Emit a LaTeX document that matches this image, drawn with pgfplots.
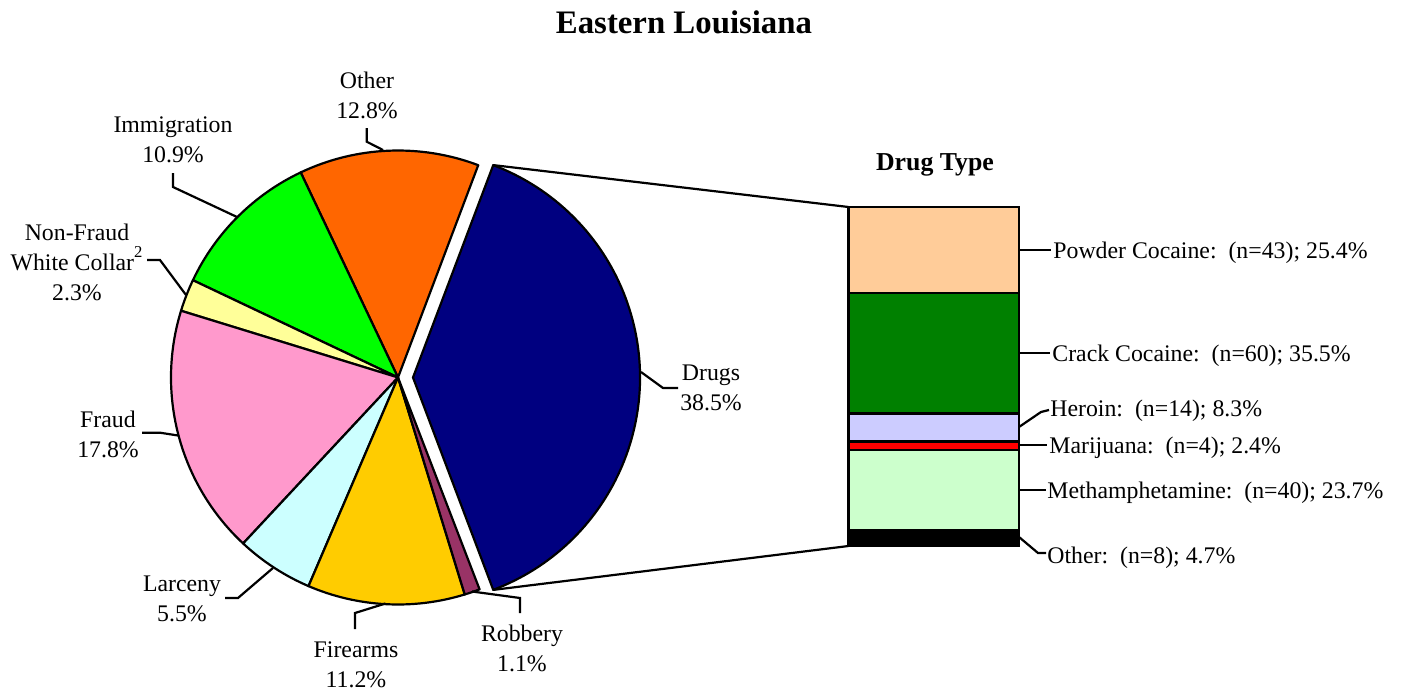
\documentclass[border=0pt]{standalone}
\usepackage{pgfplots}
\pgfplotsset{compat=1.18}
\usepackage{fontspec}
\setmainfont{Liberation Serif}
\definecolor{cDrugs}{HTML}{000080}
\definecolor{cOther}{HTML}{FF6600}
\definecolor{cImm}{HTML}{00FF00}
\definecolor{cNF}{HTML}{FFFF99}
\definecolor{cFraud}{HTML}{FF99CC}
\definecolor{cLarc}{HTML}{CCFFFF}
\definecolor{cFire}{HTML}{FFCC00}
\definecolor{cRob}{HTML}{993366}
\definecolor{bPowder}{HTML}{FFCC99}
\definecolor{bCrack}{HTML}{008000}
\definecolor{bHeroin}{HTML}{CCCCFF}
\definecolor{bMari}{HTML}{FF0000}
\definecolor{bMeth}{HTML}{CCFFCC}
\definecolor{bOther}{HTML}{000000}
\newcommand\lbl{\fontsize{11.9}{15}\selectfont}
\begin{document}
\begin{tikzpicture}
\begin{axis}[x=0.5pt,y=0.5pt,xmin=0,xmax=1405,ymin=0,ymax=693,
  hide axis,clip=false,anchor=south west,at={(0,0)}]
\path (axis cs:0,0) rectangle (axis cs:1405,693);
% exploded Drugs slice (38.5%)
\draw[fill=cDrugs,line width=1.1pt,line join=round] (axis cs:413,315.5) -- ++(-69.3:113.5pt)
   arc[start angle=-69.3,end angle=69.3,radius=113.5pt] -- cycle;
% remaining slices, counter-clockwise
\foreach \pct/\col [remember=\endang as \startang (initially 69.3)] in
  {12.8/cOther,10.9/cImm,2.3/cNF,17.8/cFraud,5.5/cLarc,11.2/cFire,1.1/cRob}{
  \pgfmathsetmacro\endang{\startang+\pct*3.6}
  \edef\temp{\noexpand\draw[fill=\col,line width=1.1pt,line join=round] (axis cs:398,315.5) -- ++(\startang:113.5pt)
     arc[start angle=\startang,end angle=\endang,radius=113.5pt] -- cycle;}
  \temp
}
% title
\node[font=\fontsize{16.4}{19}\selectfont\bfseries] at (axis cs:684,671) {Eastern Louisiana};
\node[font=\fontsize{12.9}{15}\selectfont\bfseries] at (axis cs:935,528) {Drug Type};
% pie labels
\begin{scope}[every node/.style={font=\lbl,align=center,inner sep=0pt}]
\node at (axis cs:367,598) {Other\\12.8\%};
\node at (axis cs:173,553) {Immigration\\10.9\%};
\node at (axis cs:77,431) {Non-Fraud\\White Collar\raisebox{0.15em}{\textsuperscript{2}}\\2.3\%};
\node at (axis cs:108,259) {Fraud\\17.8\%};
\node at (axis cs:182,94) {Larceny\\5.5\%};
\node at (axis cs:356,28) {Firearms\\11.2\%};
\node at (axis cs:522,45) {Robbery\\1.1\%};
\node at (axis cs:711,305) {Drugs\\38.5\%};
\end{scope}
% pie leader lines
\begin{scope}[line width=1.1pt]
\draw (axis cs:366.7,565) -- (axis cs:366.7,551.3) -- (axis cs:383,543);
\draw (axis cs:173,520) -- (axis cs:173,506) -- (axis cs:237,476);
\draw (axis cs:147,433) -- (axis cs:160,433) -- (axis cs:186,398);
\draw (axis cs:142,260.3) -- (axis cs:160,260.3) -- (axis cs:178,257.5);
\draw (axis cs:225,95) -- (axis cs:238,95) -- (axis cs:273,125);
\draw (axis cs:355,64) -- (axis cs:355,80) -- (axis cs:385.5,89.5);
\draw (axis cs:472,101.5) -- (axis cs:520,95) -- (axis cs:520,80);
\draw (axis cs:641,321) -- (axis cs:663,305) -- (axis cs:678,305);
% connectors pie -> bar
\draw (axis cs:493.2,527.9) -- (axis cs:848.5,486);
\draw (axis cs:493.2,103.1) -- (axis cs:848.5,147);
% bar leader lines
\draw (axis cs:1019,443) -- (axis cs:1051,443);
\draw (axis cs:1019,340) -- (axis cs:1050,340);
\draw (axis cs:1019,266) -- (axis cs:1041,281) -- (axis cs:1049,283);
\draw (axis cs:1019,248) -- (axis cs:1047,248);
\draw (axis cs:1019,203) -- (axis cs:1046,203);
\draw (axis cs:1019,156) -- (axis cs:1038,140) -- (axis cs:1046,140);
\end{scope}
% bar labels
\begin{scope}[every node/.style={font=\lbl,anchor=base west,inner sep=0pt}]
\node at (axis cs:1053,435) {Powder Cocaine:\ \ (n=43); 25.4\%};
\node at (axis cs:1052,332) {Crack Cocaine:\ \ (n=60); 35.5\%};
\node at (axis cs:1050,277) {Heroin:\ \ (n=14); 8.3\%};
\node at (axis cs:1049,240) {Marijuana:\ \ (n=4); 2.4\%};
\node at (axis cs:1047,195) {Methamphetamine:\ \ (n=40); 23.7\%};
\node at (axis cs:1047,130) {Other:\ \ (n=8); 4.7\%};
\end{scope}
\end{axis}
\begin{axis}[at={(424.25pt,73.5pt)},anchor=south west,scale only axis,
  width=85.25pt,height=169.5pt,xmin=-0.5,xmax=0.5,ymin=0,ymax=100,
  hide axis,clip=false,ybar stacked,bar width=85.25pt,
  every axis plot/.append style={draw=black,line width=1.2pt}]
\addplot[fill=bOther] coordinates {(0,4.7)};
\addplot[fill=bMeth] coordinates {(0,23.7)};
\addplot[fill=bMari] coordinates {(0,2.4)};
\addplot[fill=bHeroin] coordinates {(0,8.3)};
\addplot[fill=bCrack] coordinates {(0,35.5)};
\addplot[fill=bPowder] coordinates {(0,25.4)};
\end{axis}
\end{tikzpicture}
\end{document}
